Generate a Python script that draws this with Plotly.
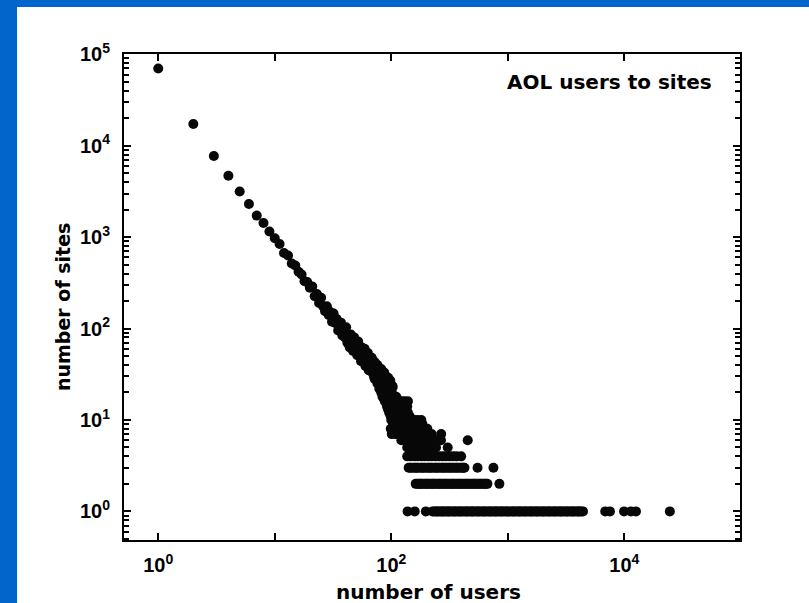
import plotly.graph_objects as go

# Number of users per site (x) and how many sites have that many users (y)
users_head = [
    1, 2, 3, 4, 5, 6, 7, 8, 9, 10,
    11, 12, 13, 14, 15, 16, 17, 18, 19, 20,
    21, 22, 23, 24, 25, 26, 27, 28, 29, 30,
    31, 32, 33, 34, 35, 36, 37, 38, 39, 40,
    41, 42, 43, 44, 45, 46, 47, 48, 49, 50,
    51, 52, 53, 54, 55, 56, 57, 58, 59, 60,
    61, 62, 63, 64, 65, 66, 67, 68, 69, 70,
    71, 72, 73, 74, 75, 76, 77, 78, 79, 80,
    81, 82, 83, 84, 85, 86, 87, 88, 89, 90,
    91, 92, 93, 94, 95, 96, 97, 98, 99, 100,
    101, 102, 103,
]
sites_head = [
    70000, 17300, 7700, 4700, 3150, 2300, 1720, 1430, 1150, 970,
    840, 670, 630, 515, 490, 418, 390, 330, 322, 280,
    288, 226, 239, 190, 217, 175, 155, 175, 141, 152,
    119, 146, 115, 127, 95, 105, 116, 84, 100, 80,
    103, 70, 84, 62, 86, 69, 57, 80, 59, 70,
    51, 72, 53, 59, 44, 62, 46, 51, 60, 39,
    52, 39, 54, 35, 43, 48, 34, 48, 35, 40,
    30, 43, 34, 38, 28, 40, 29, 34, 25, 36,
    26, 36, 28, 23, 32, 25, 33, 22, 26, 30,
    21, 29, 22, 29, 20, 25, 18, 27, 21, 19,
    24, 19, 23,
]

# Site counts in the scattered region and the user counts found at each
cloud_levels = [28, 25, 22, 20, 19, 18, 17, 16, 15, 14, 13, 12, 11, 10, 9, 8, 7, 6, 5, 4]
cloud_users = [
    [72, 80, 87],
    [76, 84, 93],
    [79, 88, 96],
    [82, 91, 101],
    [85, 94],
    [84, 90, 97, 105, 110],
    [87, 95, 104, 112],
    [88, 96, 106, 114, 123, 130, 139],
    [91, 99, 108, 117, 127],
    [92, 101, 110, 119, 128, 137],
    [94, 102, 111, 121, 131],
    [96, 104, 113, 123, 133, 139],
    [99, 107, 116, 125, 135, 144],
    [100, 108, 117, 126, 136, 146, 157, 168, 181],
    [104, 112, 120, 129, 139, 149, 160, 172, 185],
    [99, 106, 115, 124, 133, 143, 154, 165, 177, 190, 204],
    [101, 109, 117, 126, 135, 145, 156, 168, 180, 193, 207, 222, 268],
    [122, 131, 140, 151, 162, 174, 187, 201, 216, 232, 249, 267, 453],
    [137, 147, 158, 170, 182, 195, 210, 225, 242, 305],
    [137, 147, 158, 169, 181, 194, 208, 223, 239, 257, 275, 295, 316, 339, 363, 398],
]

users_3_sites = [141, 145, 150, 156, 161, 165, 170, 177, 183, 188, 194, 202, 209, 215,
                 221, 230, 239, 246, 253, 263, 273, 281, 290, 301, 312, 322, 332, 344,
                 357, 368, 380, 394, 408, 416, 425, 550, 753]
users_2_sites = [162, 168, 174, 178, 183, 190, 197, 202, 208, 216, 224, 230, 237, 246,
                 255, 262, 270, 280, 290, 298, 308, 320, 331, 340, 351, 364, 377, 388,
                 400, 414, 429, 442, 456, 472, 489, 504, 520, 538, 557, 574, 592, 612,
                 634, 650, 668, 847]
users_1_site = [138, 159, 198, 226, 233, 241, 247, 253, 262, 270, 277, 284, 293, 303,
                310, 318, 329, 341, 349, 358, 370, 383, 392, 402, 416, 431, 441, 452,
                468, 484, 495, 507, 525, 544, 557, 571, 590, 611, 625, 640, 663, 687,
                703, 720, 745, 771, 789, 809, 837, 866, 888, 911, 941, 973, 997, 1022,
                1058, 1094, 1121, 1149, 1189, 1230, 1259, 1290, 1335, 1381, 1414, 1450,
                1500, 1552, 1590, 1629, 1686, 1744, 1786, 1831, 1896, 1962, 2008, 2055,
                2128, 2203, 2255, 2310, 2392, 2475, 2534, 2596, 2688, 2781, 2848, 2918,
                3020, 3124, 3199, 3279, 3394, 3510, 3595, 3684, 3812, 3945, 4040, 4139,
                4280, 4420, 6860, 7530, 9950, 11400, 12590, 24600]

x_tick_vals = [1, 10, 100, 1000, 10000]
x_tick_text = ["10<sup>0</sup>", "", "10<sup>2</sup>", "", "10<sup>4</sup>"]
y_tick_vals = [1, 10, 100, 1000, 10000, 100000]
y_tick_text = ["10<sup>0</sup>", "10<sup>1</sup>", "10<sup>2</sup>",
               "10<sup>3</sup>", "10<sup>4</sup>", "10<sup>5</sup>"]

# Assemble the full point set
xs = list(users_head)
ys = list(sites_head)
for level, us in zip(cloud_levels, cloud_users):
    xs += us
    ys += [level] * len(us)
for level, us in ((3, users_3_sites), (2, users_2_sites), (1, users_1_site)):
    xs += us
    ys += [level] * len(us)

W, H = 809, 603
ML, MR, MT, MB = 124, 69, 54, 63
PW, PH = W - ML - MR, H - MT - MB
X_RANGE = [-0.294, 4.993]
Y_RANGE = [-0.313, 5.003]


def px(x):
    return (x - ML) / PW


def py(y):
    return (H - MB - y) / PH


label_font = dict(family="Liberation Sans, Arial", size=20, color="black", weight="bold")
title_font = dict(family="DejaVu Sans", size=20, color="black", weight="bold")

minor_y = [m * 10 ** d for d in range(-1, 5) for m in range(2, 10) if 0.5 <= m * 10 ** d <= 100000]
minor_style = dict(tickmode="array", tickvals=minor_y, ticks="inside", ticklen=5,
                   tickwidth=1.5, tickcolor="black", showgrid=False)

fig = go.Figure()
fig.add_trace(go.Scatter(
    x=xs, y=ys, mode="markers",
    marker=dict(size=10, color="#080808", line=dict(width=0)),
    hoverinfo="skip",
))
# empty trace that carries the right-hand tick axis
fig.add_trace(go.Scatter(x=[], y=[], yaxis="y2", hoverinfo="skip"))

axis_common = dict(
    type="log", showgrid=False, zeroline=False,
    showline=True, linewidth=2, linecolor="black", mirror="ticks",
    ticks="inside", ticklen=7, tickwidth=1.5, tickcolor="black",
    tickfont=label_font,
)

fig.update_layout(
    xaxis=dict(range=X_RANGE, tickmode="array", tickvals=x_tick_vals,
               ticktext=x_tick_text, ticklabelstandoff=6, **axis_common),
    yaxis=dict(range=Y_RANGE, tickmode="array", tickvals=y_tick_vals,
               ticktext=y_tick_text, ticklabelstandoff=8, minor=minor_style,
               **axis_common),
    yaxis2=dict(type="log", range=Y_RANGE, overlaying="y", side="right",
                showgrid=False, zeroline=False, showline=False,
                tickmode="array", tickvals=y_tick_vals, showticklabels=False,
                ticks="inside", ticklen=7, tickwidth=1.5, tickcolor="black",
                minor=minor_style),
)

fig.update_layout(
    width=W, height=H,
    margin=dict(l=ML, r=MR, t=MT, b=MB),
    paper_bgcolor="#0066cc",
    plot_bgcolor="white",
    showlegend=False,
    shapes=[dict(type="rect", xref="paper", yref="paper", layer="below",
                 x0=px(17), x1=px(812), y0=py(606), y1=py(7),
                 fillcolor="white", line=dict(width=0))],
    annotations=[
        dict(text="AOL users to sites", xref="paper", yref="paper",
             x=px(505), y=py(82), xanchor="left", yanchor="middle",
             showarrow=False, font=title_font),
        dict(text="number of users", xref="paper", yref="paper",
             x=px(428.5), y=py(591.5), xanchor="center", yanchor="middle",
             showarrow=False, font=title_font),
        dict(text="number of sites", xref="paper", yref="paper",
             x=px(63), y=py(307), xanchor="center", yanchor="middle",
             textangle=-90, showarrow=False, font=dict(title_font, size=19)),
    ],
)

fig.write_html("out.html")
